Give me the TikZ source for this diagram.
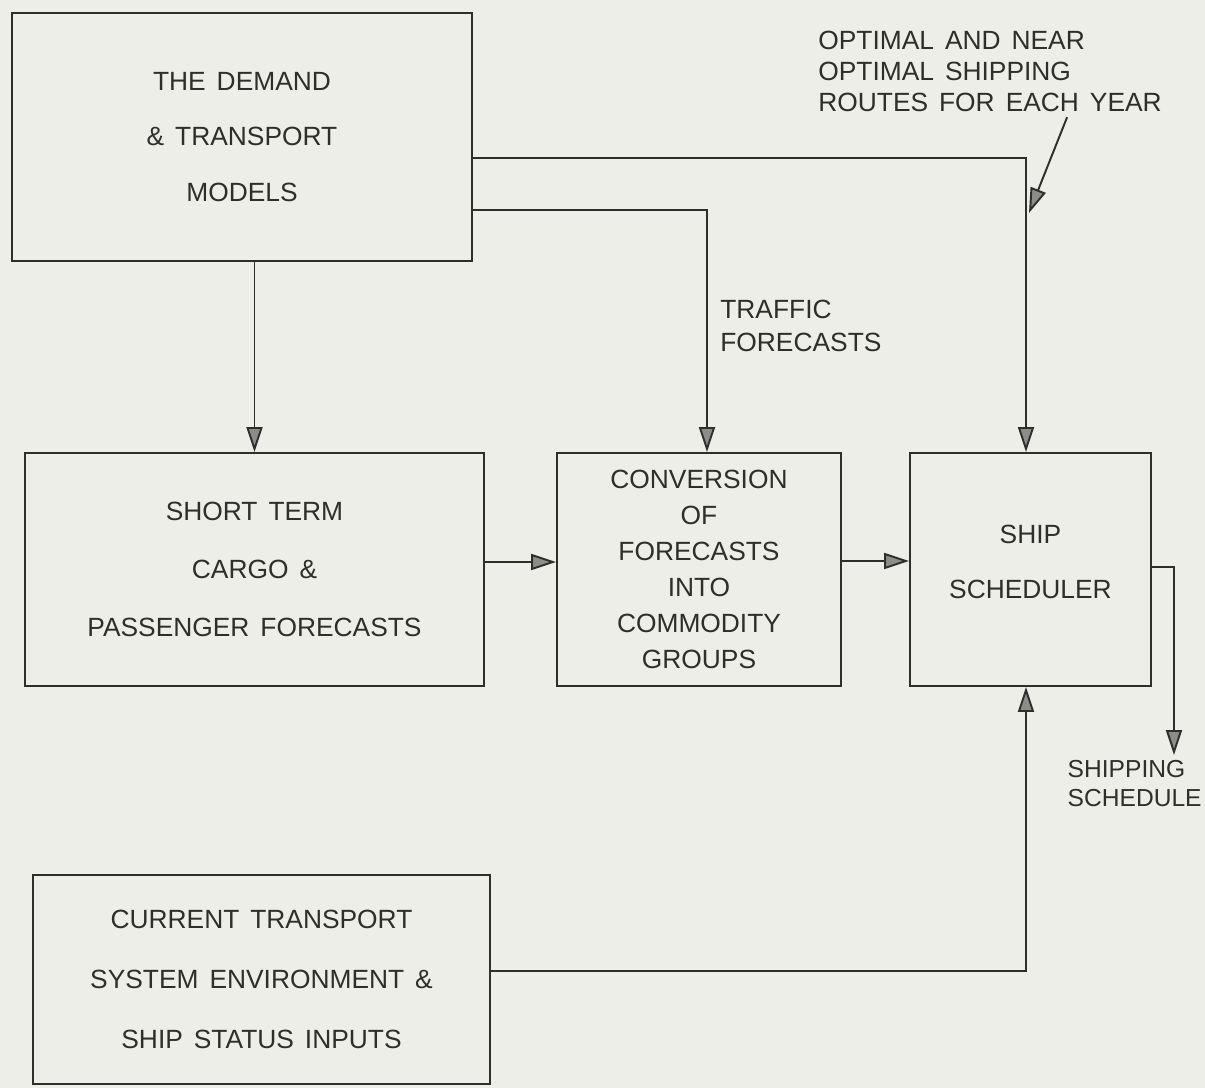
\documentclass[tikz,border=0pt]{standalone}
\usepackage{fontspec}
\setmainfont{Liberation Sans}[WordSpace=1.5]
\usepackage{tikz}
\usetikzlibrary{arrows.meta}
\definecolor{paper}{HTML}{EDEEE8}
\definecolor{ink}{HTML}{2E2E2C}
\definecolor{head}{HTML}{8C8C88}
\tikzset{
  block/.style={draw=ink, line width=1.1pt, text=ink, align=center, inner sep=0pt, minimum height=4.66cm},
  note/.style={text=ink, align=left, inner sep=0pt, font=\fontsize{15}{17.6}\selectfont},
  flow/.style={draw=ink, line width=1.1pt, -{Triangle[length=0.5cm,width=0.32cm,fill=head]}}
}

\begin{document}
\begin{tikzpicture}[x=0.02cm, y=-0.02cm]
\useasboundingbox (0,0) rectangle (1205,1088);
\fill[paper] (0,0) rectangle (1205,1088);

% top model box
\node[block, minimum width=9.2cm, minimum height=4.96cm, font=\fontsize{15}{31.5}\selectfont]
  (demand) at (242,137) {THE DEMAND\\\& TRANSPORT\\MODELS};

% middle row
\node[block, minimum width=9.18cm, font=\fontsize{15}{33}\selectfont]
  (shortterm) at (254.5,569.5) {SHORT TERM\\CARGO \&\\PASSENGER FORECASTS};
\node[block, minimum width=5.68cm, font=\fontsize{15}{20.4}\selectfont]
  (conversion) at (699,569.5) {CONVERSION\\OF\\FORECASTS\\INTO\\COMMODITY\\GROUPS};
\node[block, minimum width=4.82cm, text depth=0.3cm, font=\fontsize{15}{31}\selectfont]
  (scheduler) at (1030.5,569.5) {SHIP\\SCHEDULER};

% inputs box at the bottom
\node[block, minimum width=9.14cm, minimum height=4.18cm, font=\fontsize{15}{34}\selectfont]
  (current) at (261.5,979.5) {CURRENT TRANSPORT\\SYSTEM ENVIRONMENT \&\\SHIP STATUS INPUTS};

% labels
\node[note, anchor=north west] (routes) at (818,31)
  {OPTIMAL AND NEAR\\OPTIMAL SHIPPING\\ROUTES FOR EACH YEAR};
\node[note, anchor=north west, font=\fontsize{15}{18.7}\selectfont] (traffic) at (720,300)
  {TRAFFIC\\FORECASTS};
\node[note, anchor=north east, font=\fontsize{14}{16.5}\selectfont] (schedout) at (1202,760)
  {SHIPPING\\SCHEDULE};
\coordinate (routetip) at (1029,213);
\coordinate (outtip) at (1174,755);

% connectors
\draw[flow] (demand.south -| shortterm.north) -- (shortterm.north);
\draw[flow] ([yshift=-0.42cm]demand.east) -| ([xshift=-0.09cm]scheduler.north);
\draw[flow] ([yshift=-1.46cm]demand.east) -| ([xshift=0.16cm]conversion.north);
\draw[flow] ([yshift=0.15cm]shortterm.east) -- ([yshift=0.15cm]conversion.west);
\draw[flow] ([yshift=0.17cm]conversion.east) -- ([yshift=0.17cm]scheduler.west);
\draw[flow] ([yshift=0.05cm]scheduler.east) -| (outtip);
\draw[flow] ([yshift=0.17cm]current.east) -| ([xshift=-0.09cm]scheduler.south);
\draw[flow] ([xshift=-1.9cm,yshift=-0.1cm]routes.south east) -- (routetip);
\end{tikzpicture}
\end{document}
